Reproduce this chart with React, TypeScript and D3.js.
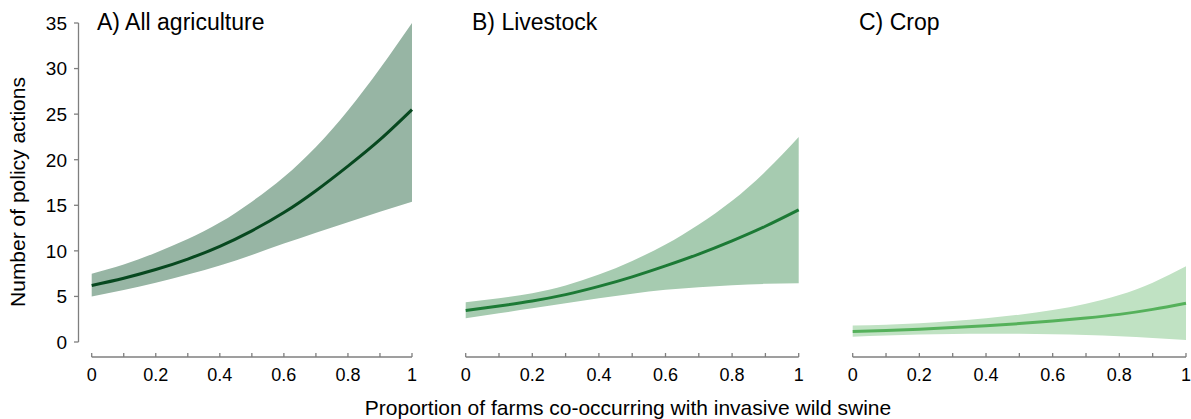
import React from "react";
import * as d3 from "d3";

const xValues = [0, 0.1, 0.2, 0.3, 0.4, 0.5, 0.6, 0.7, 0.8, 0.9, 1];

const meanA = [6.2, 7.0, 7.95, 9.1, 10.5, 12.2, 14.2, 16.6, 19.3, 22.2, 25.5];
const upperA = [7.5, 8.5, 9.8, 11.3, 13.1, 15.4, 18.1, 21.4, 25.4, 30.0, 35.0];
const lowerA = [5.0, 5.7, 6.5, 7.4, 8.4, 9.55, 10.8, 12.0, 13.15, 14.3, 15.4];

const meanB = [3.45, 3.95, 4.5, 5.2, 6.1, 7.15, 8.35, 9.65, 11.1, 12.7, 14.5];
const upperB = [4.35, 4.8, 5.35, 6.2, 7.4, 8.9, 10.7, 12.9, 15.5, 18.7, 22.5];
const lowerB = [2.6, 3.15, 3.7, 4.25, 4.8, 5.3, 5.72, 6.02, 6.23, 6.38, 6.45];

const meanC = [1.15, 1.27, 1.41, 1.58, 1.78, 2.02, 2.3, 2.63, 3.03, 3.58, 4.25];
const upperC = [1.8, 1.9, 2.05, 2.3, 2.6, 3.0, 3.5, 4.2, 5.15, 6.5, 8.3];
const lowerC = [0.58, 0.72, 0.82, 0.88, 0.91, 0.9, 0.85, 0.76, 0.63, 0.44, 0.22];

const panelTitles = ["A) All agriculture", "B) Livestock", "C) Crop"];
const yTicks = [0, 5, 10, 15, 20, 25, 30, 35];
const xTickLabels = [0, 0.2, 0.4, 0.6, 0.8, 1];
const xMinorTicks = [0, 0.1, 0.2, 0.3, 0.4, 0.5, 0.6, 0.7, 0.8, 0.9, 1];
const xTitle = "Proportion of farms co-occurring with invasive wild swine";
const yTitle = "Number of policy actions";

const panels = [
  { title: panelTitles[0], mean: meanA, upper: upperA, lower: lowerA, band: "#97b5a4", line: "#07481f", x0: 91.7, x1: 412, tx: 97 },
  { title: panelTitles[1], mean: meanB, upper: upperB, lower: lowerB, band: "#a6cbb0", line: "#1c7a35", x0: 465.7, x1: 798.7, tx: 472 },
  { title: panelTitles[2], mean: meanC, upper: upperC, lower: lowerC, band: "#c0e2c3", line: "#55b15b", x0: 852.7, x1: 1186, tx: 859 },
];

const W = 1191;
const H = 419;
const FONT = "'Liberation Sans', Arial, sans-serif";
const AXIS = "#7f7f7f";

export default function App() {
  const y = d3.scaleLinear().domain([0, 35]).range([342, 23]);
  const axisY = 357;

  return (
    <svg
      width={W}
      height={H}
      style={{ position: "absolute", left: 0, top: 0, background: "#fff" }}
      fontFamily={FONT}
    >
      {/* Y axis */}
      <line x1={78.5} x2={78.5} y1={y(0)} y2={y(35)} stroke={AXIS} strokeWidth={1.3} />
      {yTicks.map((t) => (
        <g key={t}>
          <line x1={74} x2={78.5} y1={y(t)} y2={y(t)} stroke={AXIS} strokeWidth={1.3} />
          <text x={67} y={y(t)} dy="0.36em" textAnchor="end" fontSize={19} fill="#000">
            {t}
          </text>
        </g>
      ))}
      <text
        transform={`translate(25,${192}) rotate(-90)`}
        textAnchor="middle"
        fontSize={21}
        fill="#000"
      >
        {yTitle}
      </text>

      {panels.map((p, i) => {
        const x = d3.scaleLinear().domain([0, 1]).range([p.x0, p.x1]);
        const area = d3
          .area<number>()
          .x((_, j) => x(xValues[j]))
          .y0((_, j) => y(p.lower[j]))
          .y1((_, j) => y(p.upper[j]))
          .curve(d3.curveNatural);
        const line = d3
          .line<number>()
          .x((_, j) => x(xValues[j]))
          .y((d) => y(d))
          .curve(d3.curveNatural);
        return (
          <g key={i}>
            <path d={area(p.mean) || ""} fill={p.band} stroke="none" />
            <path d={line(p.mean) || ""} fill="none" stroke={p.line} strokeWidth={3} />
            <line x1={x(0)} x2={x(1)} y1={axisY} y2={axisY} stroke={AXIS} strokeWidth={1.3} />
            {xMinorTicks.map((t) => (
              <line key={t} x1={x(t)} x2={x(t)} y1={axisY} y2={axisY - 4} stroke={AXIS} strokeWidth={1.3} />
            ))}
            {xTickLabels.map((t) => (
              <text key={t} x={x(t)} y={381} textAnchor="middle" fontSize={18} fill="#000">
                {String(t)}
              </text>
            ))}
            <text x={p.tx} y={30} fontSize={23} fill="#000">
              {p.title}
            </text>
          </g>
        );
      })}

      <text x={628} y={415} textAnchor="middle" fontSize={21} fill="#000">
        {xTitle}
      </text>
    </svg>
  );
}
